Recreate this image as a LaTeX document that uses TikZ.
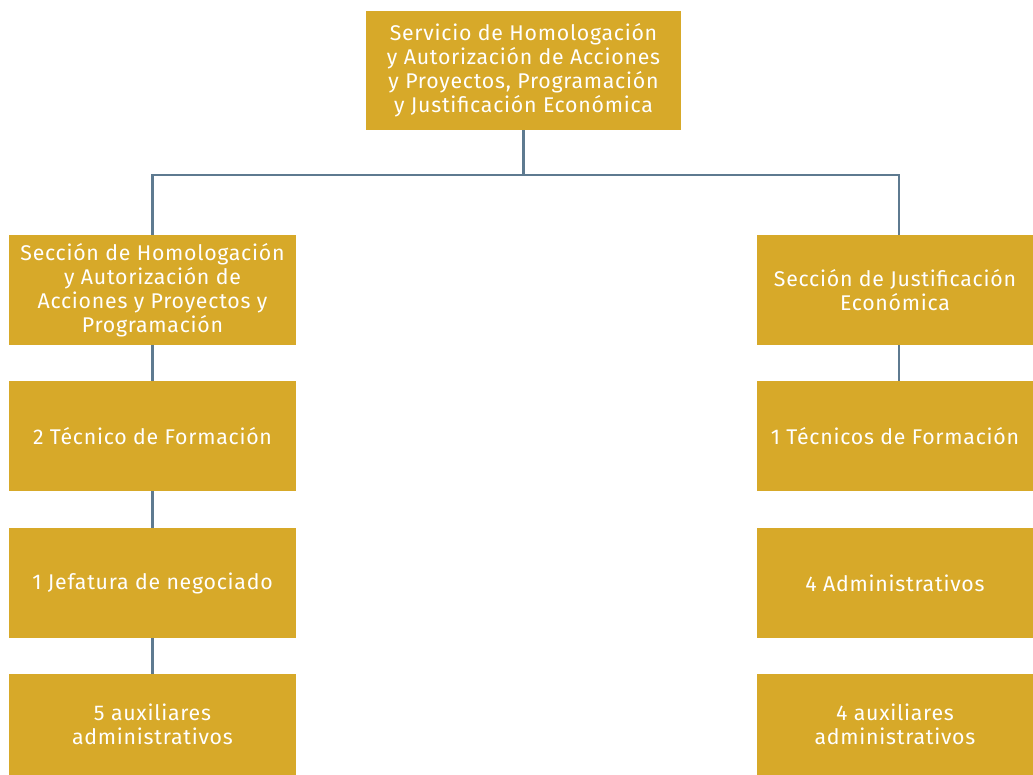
\documentclass[tikz,border=0pt]{standalone}
\usepackage{fontspec}
\setmainfont{Fira Sans}[LetterSpace=3.5]
\definecolor{gold}{HTML}{D7A929}
\definecolor{slate}{HTML}{5E7A90}
\begin{document}
\begin{tikzpicture}[x=1pt,y=-1pt,
  box/.style={fill=gold,draw=none,text=white,align=center,inner sep=0pt,
    font=\fontsize{21.3}{24}\selectfont},
  conn/.style={draw=slate,line width=2.6pt}]
\useasboundingbox (0,0) rectangle (1033,775);
\node[box,minimum width=315pt,minimum height=119pt] (top) at (523.5,70.5)
  {\raisebox{-2pt}{\parbox{315pt}{\centering Servicio de Homologación\\y Autorización de Acciones\\y Proyectos, Programación\\y Justificación Económica}}};
\node[box,minimum width=287pt,minimum height=110pt] (l1) at (152.5,290)
  {Sección de Homologación\\y Autorización de\\Acciones y Proyectos y\\Programación};
\node[box,minimum width=287pt,minimum height=110pt] (l2) at (152.5,436) {2 Técnico de Formación};
\node[box,minimum width=287pt,minimum height=110pt] (l3) at (152.5,583) {1 Jefatura de negociado};
\node[box,minimum width=287pt,minimum height=101pt] (l4) at (152.5,724.5) {5 auxiliares\\administrativos};
\node[box,minimum width=276pt,minimum height=110pt] (r1) at (895,290) {Sección de Justificación\\Económica};
\node[box,minimum width=276pt,minimum height=110pt] (r2) at (895,436) {1 Técnicos de Formación};
\node[box,minimum width=276pt,minimum height=110pt] (r3) at (895,583) {4 Administrativos};
\node[box,minimum width=276pt,minimum height=101pt] (r4) at (895,724.5) {4 auxiliares\\administrativos};
\coordinate (j) at (523.5,175);
\draw[conn] (top.south) -- (j);
\draw[conn] (j) -| (l1.north);
\draw[conn] (j) -| ([xshift=4pt]r1.north);
\draw[conn] (l1) -- (l2);
\draw[conn] (l2) -- (l3);
\draw[conn] (l3) -- (l4);
\draw[conn] ([xshift=4pt]r1.south) -- ([xshift=4pt]r2.north);
\end{tikzpicture}
\end{document}
